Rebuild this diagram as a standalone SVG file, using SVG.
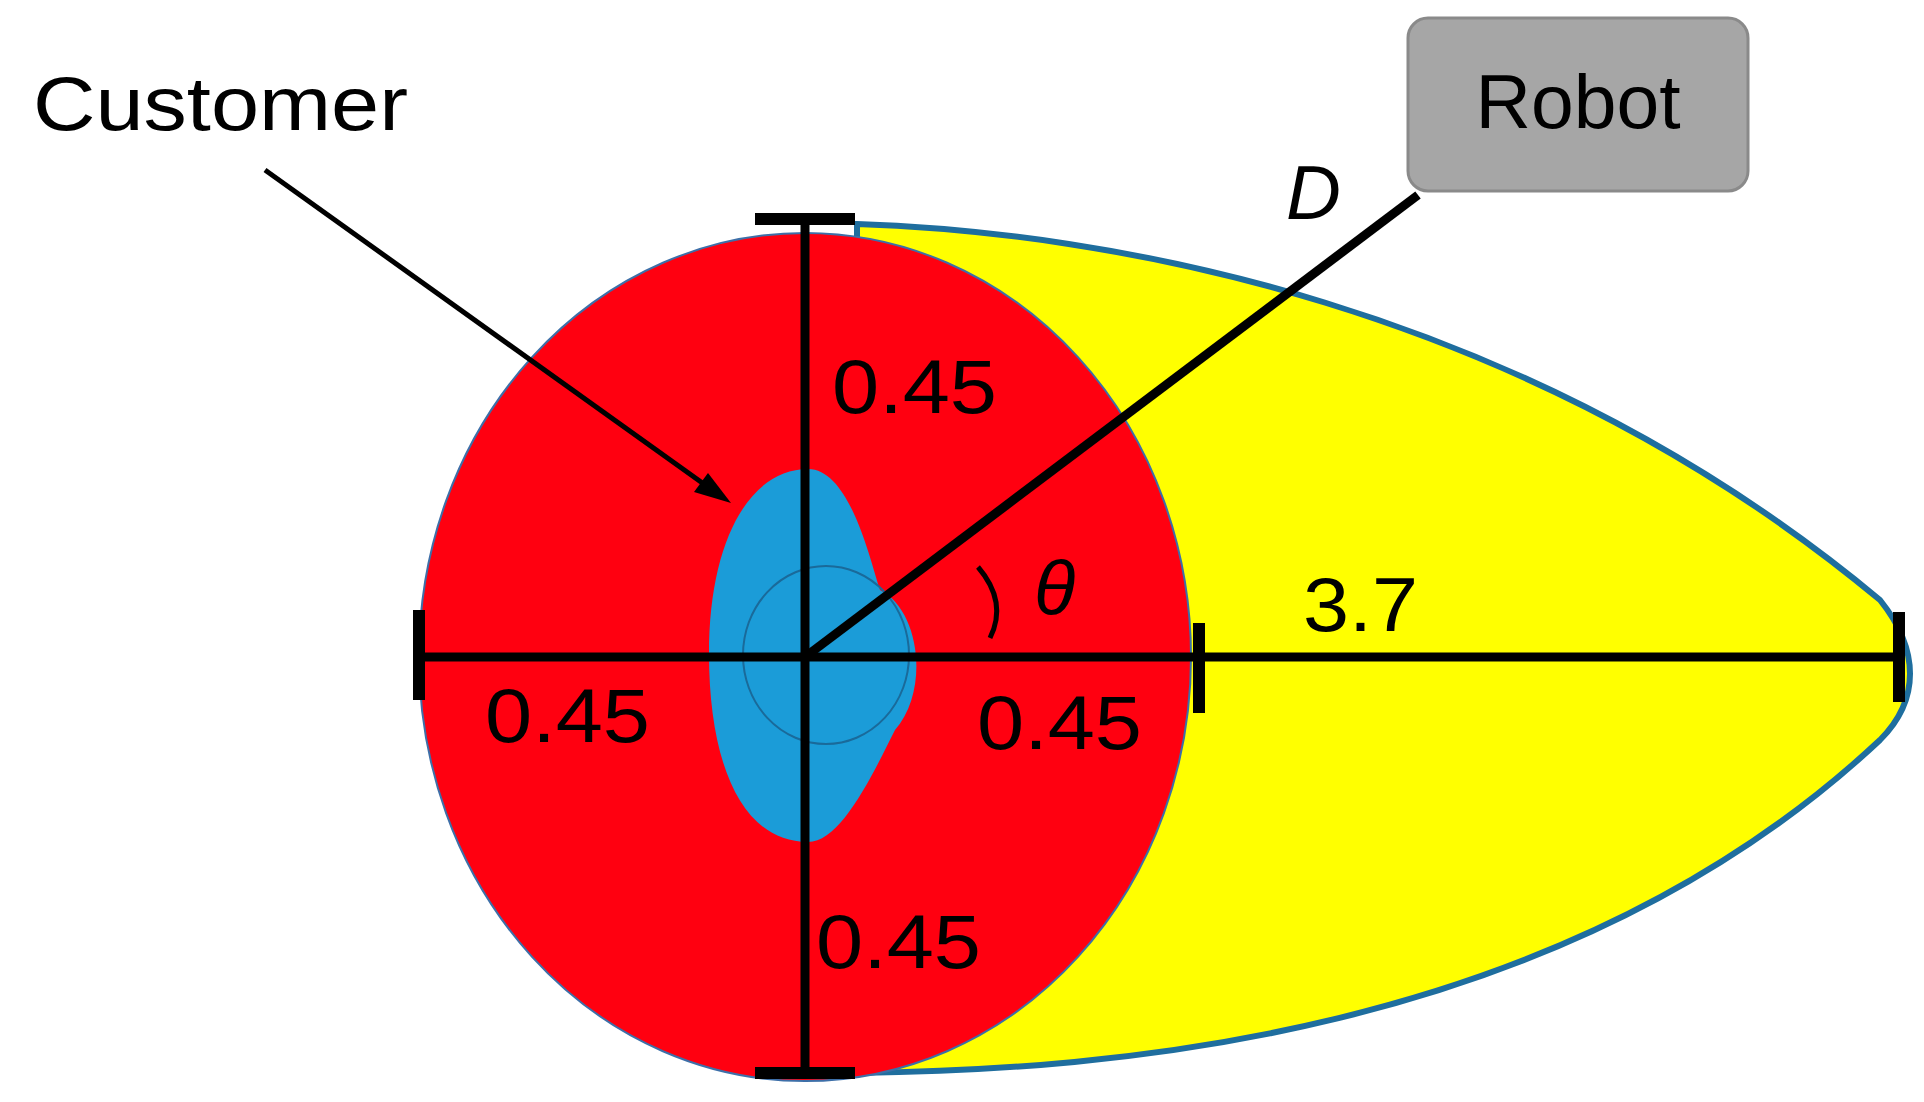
<svg xmlns="http://www.w3.org/2000/svg" width="1924" height="1102" viewBox="0 0 1924 1102">
<style>
.t{font-family:"Liberation Sans",Arial,sans-serif;font-size:76px;fill:#000}
.bar{stroke:#000;stroke-width:9;fill:none}
.cap{stroke:#000;stroke-width:12}
</style>
<defs><marker id="ah" markerWidth="10" markerHeight="10" refX="8" refY="5" orient="auto" markerUnits="userSpaceOnUse" viewBox="0 0 10 10"><path d="M0,0 L10,5 L0,10" fill="none" stroke="#000" stroke-width="0"/></marker></defs>
<rect width="1924" height="1102" fill="#fff"/>
<g id="zone">
<path d="M857,224 C1100,232 1520,300 1880,600 C1920,650 1920,700 1880,740 C1560,1040 1100,1070 857,1073 Z" fill="#FFFF00" stroke="#1F6E9E" stroke-width="6"/>
<ellipse cx="805" cy="657" rx="386" ry="424" fill="#FF0010" stroke="#3D6FA8" stroke-width="2"/>
</g>
<g id="customer">
<path d="M808,469 C850,469 870,560 880,590 C920,610 930,690 895,730 C870,780 840,842 808,842 C740,842 709,760 709,654 C709,540 750,469 808,469 Z" fill="#1B9CD8"/>
<ellipse cx="826" cy="655" rx="83" ry="89" fill="none" stroke="#1A6A9A" stroke-width="2"/>
<text class="t" x="33" y="130" textLength="375" lengthAdjust="spacingAndGlyphs">Customer</text>
</g>
<g id="robot">
<rect x="1408" y="18" width="340" height="173" rx="20" fill="#A6A6A6" stroke="#8A8A8A" stroke-width="3"/>
<text class="t" x="1578" y="128" text-anchor="middle" textLength="205" lengthAdjust="spacingAndGlyphs">Robot</text>
</g>
<g id="connectors">
<line class="bar" x1="805" y1="219" x2="805" y2="1073"/>
<line class="bar" x1="419" y1="657" x2="1899" y2="657"/>
<line class="cap" x1="755" y1="219" x2="855" y2="219"/>
<line class="cap" x1="755" y1="1073" x2="855" y2="1073"/>
<line class="cap" x1="419" y1="610" x2="419" y2="700"/>
<line class="cap" x1="1199" y1="623" x2="1199" y2="713"/>
<line class="cap" x1="1899" y1="612" x2="1899" y2="702"/>
<line class="bar" x1="805" y1="657" x2="1418" y2="195"/>
<line x1="265" y1="170" x2="715" y2="492" stroke="#000" stroke-width="5"/>
<path d="M731,503 L694,492 L708,473 Z" fill="#000"/>
<path d="M978,567 Q1008,602 990,638" fill="none" stroke="#000" stroke-width="5"/>
</g>
<g id="labels">
<text class="t" x="832" y="413" textLength="165" lengthAdjust="spacingAndGlyphs">0.45</text>
<text class="t" x="485" y="742" textLength="165" lengthAdjust="spacingAndGlyphs">0.45</text>
<text class="t" x="977" y="749" textLength="165" lengthAdjust="spacingAndGlyphs">0.45</text>
<text class="t" x="816" y="968" textLength="165" lengthAdjust="spacingAndGlyphs">0.45</text>
<text class="t" x="1303" y="631" textLength="115" lengthAdjust="spacingAndGlyphs">3.7</text>
<text class="t" x="1034" y="614" font-style="italic">θ</text>
<text class="t" x="1286" y="219" font-style="italic">D</text>
</g>
</svg>
